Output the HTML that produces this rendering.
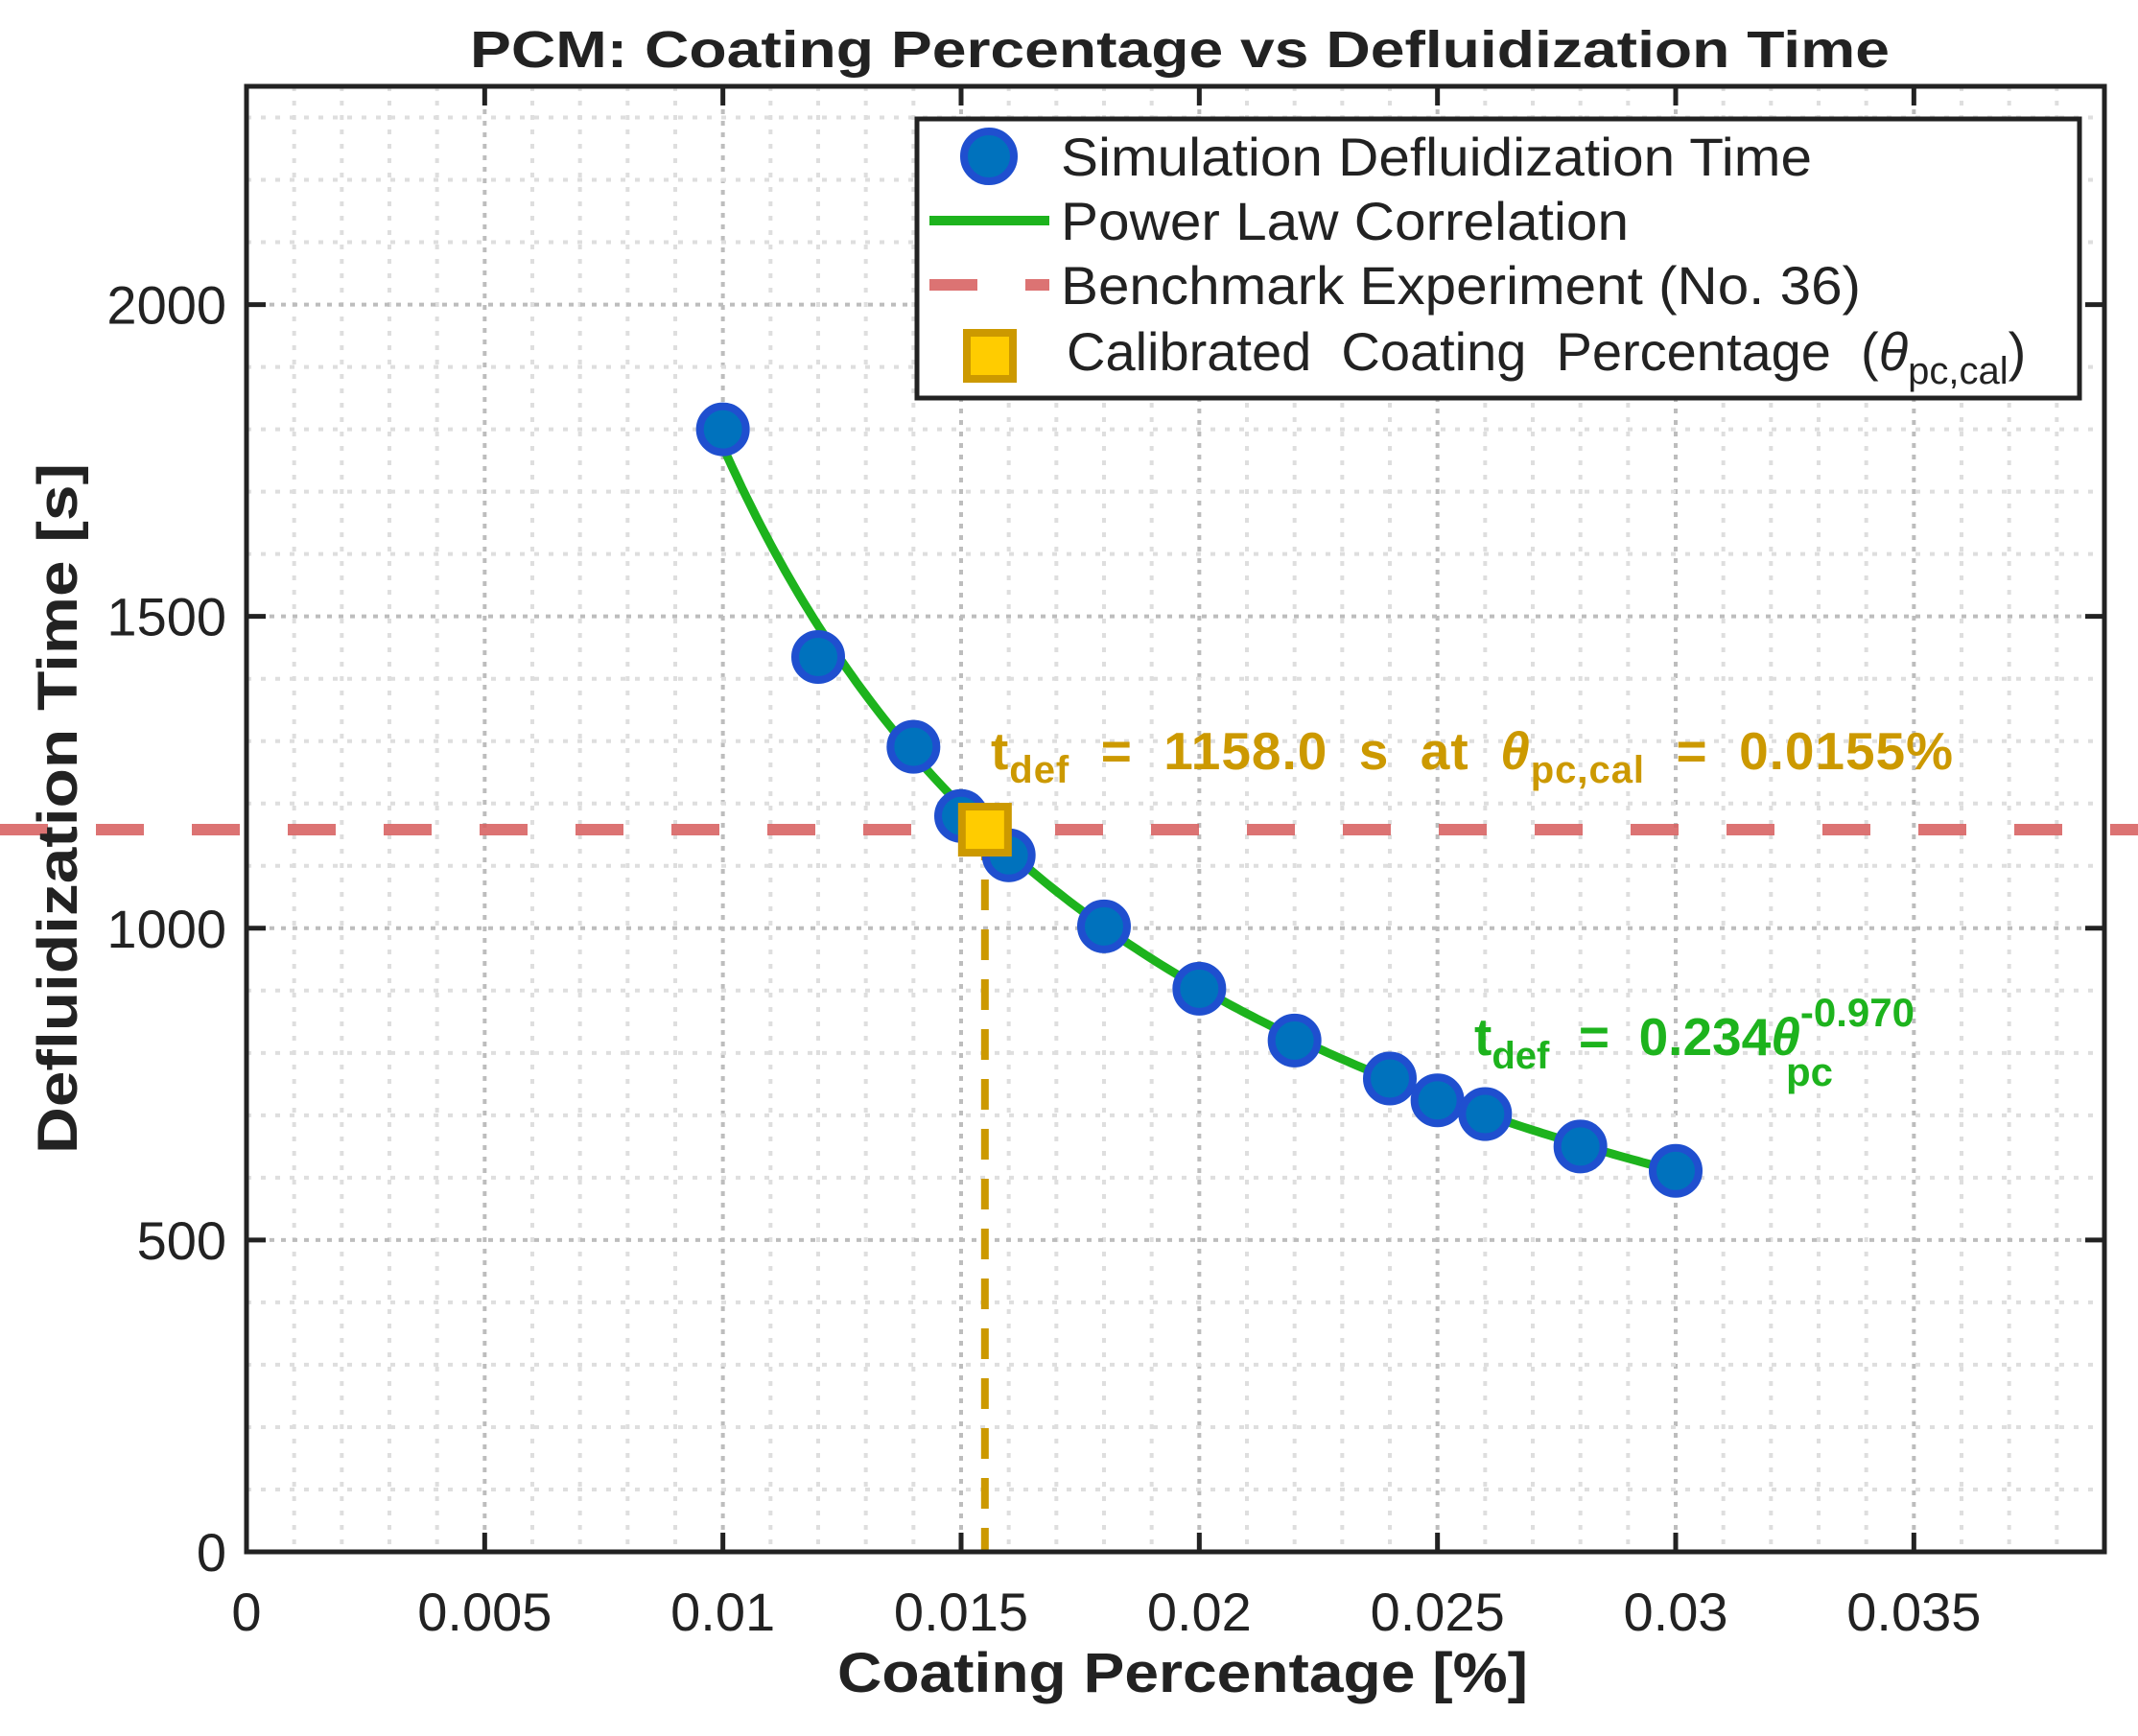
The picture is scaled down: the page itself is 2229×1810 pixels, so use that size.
<!DOCTYPE html>
<html><head><meta charset="utf-8"><style>
html,body{margin:0;padding:0;background:#fff;}
svg{display:block;font-family:"Liberation Sans",Arial,sans-serif;}
</style></head><body>
<svg id="chart" width="2229" height="1810" viewBox="0 0 2229 1810" xmlns="http://www.w3.org/2000/svg">
<rect width="2229" height="1810" fill="#fff"/>
<g id="grid"></g>
<line id="bench" stroke="#d76060" stroke-opacity="0.88" stroke-width="12" stroke-dasharray="50 50"/>
<line id="vline" stroke="#cc9900" stroke-width="8" stroke-dasharray="32 20"/>
<path id="fit" fill="none" stroke="#1db31d" stroke-width="9"/>
<g id="pts"></g>
<rect id="calmark" width="48" height="48" fill="#ffcc00" stroke="#cc9900" stroke-width="8"/>
<g id="axes"></g>
<text x="1230" y="70" text-anchor="middle" font-weight="bold" font-size="54" fill="#222" textLength="1480" lengthAdjust="spacingAndGlyphs">PCM: Coating Percentage vs Defluidization Time</text>
<text x="1233" y="1764" text-anchor="middle" font-weight="bold" font-size="58" fill="#222" textLength="720" lengthAdjust="spacingAndGlyphs">Coating Percentage [%]</text>
<text transform="translate(80,843) rotate(-90)" text-anchor="middle" font-weight="bold" font-size="58" fill="#222" textLength="720" lengthAdjust="spacingAndGlyphs">Defluidization Time [s]</text>
<text x="1033" y="802" font-weight="bold" font-size="55" fill="#cc9900" textLength="1003" lengthAdjust="spacing">t<tspan font-size="40" dy="14">def</tspan><tspan dy="-14" xml:space="preserve">  =  1158.0  s  at  </tspan><tspan font-style="italic">θ</tspan><tspan font-size="40" dy="14">pc,cal</tspan><tspan dy="-14" xml:space="preserve">  =  0.0155%</tspan></text>
<text x="1537" y="1100" font-weight="bold" font-size="55" fill="#1db31d">t<tspan font-size="40" dy="14">def</tspan><tspan dy="-14" xml:space="preserve">  =  0.234</tspan><tspan font-style="italic">θ</tspan><tspan font-size="42" dy="-30">-0.970</tspan><tspan font-size="42" dx="-134" dy="62">pc</tspan></text>
<g>
<rect x="956" y="124" width="1212" height="291" fill="#fff" stroke="#222" stroke-width="5"/>
<circle cx="1031" cy="163" r="26" fill="#0072bd" stroke="#1f4fcf" stroke-width="8"/>
<text x="1106" y="183" font-size="56" fill="#222" textLength="783" lengthAdjust="spacingAndGlyphs">Simulation Defluidization Time</text>
<line x1="969" y1="230" x2="1094" y2="230" stroke="#1db31d" stroke-width="10"/>
<text x="1106" y="250" font-size="56" fill="#222" textLength="592" lengthAdjust="spacingAndGlyphs">Power Law Correlation</text>
<line x1="969" y1="297" x2="1094" y2="297" stroke="#d76060" stroke-opacity="0.88" stroke-width="12" stroke-dasharray="50 50"/>
<text x="1106" y="317" font-size="56" fill="#222" textLength="834" lengthAdjust="spacingAndGlyphs">Benchmark Experiment (No. 36)</text>
<rect x="1008" y="347" width="48" height="48" fill="#ffcc00" stroke="#cc9900" stroke-width="8"/>
<text x="1112" y="386" font-size="56" fill="#222" xml:space="preserve">Calibrated  Coating  Percentage  (<tspan font-style="italic">θ</tspan><tspan font-size="40" dy="14">pc,cal</tspan><tspan dy="-14">)</tspan></text>
</g>
</svg>
<script>
const xTicks=[0,0.005,0.01,0.015,0.02,0.025,0.03,0.035];
const xTickLabels=["0","0.005","0.01","0.015","0.02","0.025","0.03","0.035"];
const yTicks=[0,500,1000,1500,2000];
const yTickLabels=["0","500","1000","1500","2000"];
const coating=[0.010,0.012,0.014,0.015,0.016,0.018,0.020,0.022,0.024,0.025,0.026,0.028,0.030];
const defTime=[1800,1435,1291,1180,1117,1003,903,820,759,724,702,650,611];
const fitCoef=[20.35];
const fitExp=[-0.970];
const fitRange=[0.010,0.030];
const benchmarkTime=[1158];
const calibratedCoating=[0.0155];
const X0=257,X1=2194,Y0=1618,Y1=90,XMAX=0.039,YMAX=2350;
const NS="http://www.w3.org/2000/svg";
const sx=v=>X0+(v/XMAX)*(X1-X0);
const sy=v=>Y0-(v/YMAX)*(Y0-Y1);
function mk(tag,attrs,parent){const e=document.createElementNS(NS,tag);for(const k in attrs)e.setAttribute(k,attrs[k]);parent.appendChild(e);return e;}
const grid=document.getElementById('grid');
for(let i=1;i*0.001<XMAX;i++){const v=i*0.001;const major=i%5===0;
 const l=mk('line',{x1:sx(v),x2:sx(v),y1:Y1,y2:Y0,stroke:major?'#bdbdbd':'#dedede','stroke-width':4,'stroke-dasharray':major?'5 7':'5 10'},grid);
 
 }
for(let i=1;i*100<YMAX;i++){const v=i*100;const major=i%5===0;
 const l=mk('line',{x1:X0,x2:X1,y1:sy(v),y2:sy(v),stroke:major?'#bdbdbd':'#dedede','stroke-width':4,'stroke-dasharray':major?'5 7':'5 10'},grid);
 
 }
const b=document.getElementById('bench');
b.setAttribute('x1',0);b.setAttribute('x2',2229);b.setAttribute('y1',sy(benchmarkTime[0]));b.setAttribute('y2',sy(benchmarkTime[0]));
const vl=document.getElementById('vline');
vl.setAttribute('x1',sx(calibratedCoating[0]));vl.setAttribute('x2',sx(calibratedCoating[0]));vl.setAttribute('y1',sy(benchmarkTime[0]));vl.setAttribute('y2',Y0);
let d='';for(let i=0;i<=200;i++){const x=fitRange[0]+(fitRange[1]-fitRange[0])*i/200;const y=fitCoef[0]*Math.pow(x,fitExp[0]);d+=(i?'L':'M')+sx(x).toFixed(1)+','+sy(y).toFixed(1);}
document.getElementById('fit').setAttribute('d',d);
const pts=document.getElementById('pts');
coating.forEach((c,i)=>{const p=mk('circle',{cx:sx(c),cy:sy(defTime[i]),r:24,fill:'#0072bd',stroke:'#1f4fcf','stroke-width':8},pts);
 
 });
const cm=document.getElementById('calmark');
cm.setAttribute('x',sx(calibratedCoating[0])-24);cm.setAttribute('y',sy(benchmarkTime[0])-24);
const axes=document.getElementById('axes');
mk('rect',{x:X0,y:Y1,width:X1-X0,height:Y0-Y1,fill:'none',stroke:'#222','stroke-width':5},axes);
xTicks.forEach((v,i)=>{const x=sx(v);
 mk('line',{x1:x,x2:x,y1:Y0,y2:Y0-20,stroke:'#222','stroke-width':5},axes);
 mk('line',{x1:x,x2:x,y1:Y1,y2:Y1+20,stroke:'#222','stroke-width':5},axes);
 const t=mk('text',{x:x,y:1700,'text-anchor':'middle','font-size':56,fill:'#222'},axes);t.textContent=xTickLabels[i];
 
 });
yTicks.forEach((v,i)=>{const y=sy(v);
 mk('line',{x1:X0,x2:X0+20,y1:y,y2:y,stroke:'#222','stroke-width':5},axes);
 mk('line',{x1:X1,x2:X1-20,y1:y,y2:y,stroke:'#222','stroke-width':5},axes);
 const t=mk('text',{x:236,y:y+20,'text-anchor':'end','font-size':56,fill:'#222'},axes);t.textContent=yTickLabels[i];
 
 });
</script>
</body></html>
